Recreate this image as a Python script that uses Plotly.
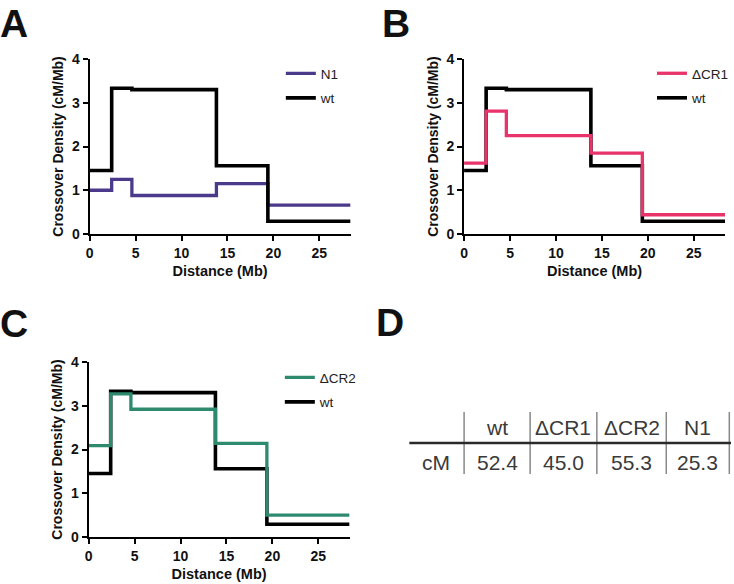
import plotly.graph_objects as go

# ---- data ----
breaks_mb = [0, 2.4, 4.6, 13.8, 19.4, 28.4]
wt = [1.45, 3.33, 3.30, 1.56, 0.29]
n1 = [1.00, 1.25, 0.88, 1.15, 0.66]
dcr1 = [1.62, 2.81, 2.25, 1.85, 0.44]
dcr2 = [2.09, 3.27, 2.92, 2.14, 0.50]

table_cols = ["wt", "ΔCR1", "ΔCR2", "N1"]
table_row_label = "cM"
table_vals = ["52.4", "45.0", "55.3", "25.3"]

# ---- styles ----
C_WT = "#000000"
C_N1 = "#4b3a8c"
C_CR1 = "#e8336b"
C_CR2 = "#2e8a6e"
W, H = 734, 584
BOLD = "Liberation Sans, Arial, sans-serif"


def steps(vals):
    return vals + [vals[-1]]


fig = go.Figure()

panels = [
    ("x", "y", "legend", "N1", n1, C_N1, True),
    ("x2", "y2", "legend2", "ΔCR1", dcr1, C_CR1, False),
    ("x3", "y3", "legend3", "ΔCR2", dcr2, C_CR2, False),
]

for xa, ya, lg, name, vals, col, wt_top in panels:
    tr_other = go.Scatter(x=breaks_mb, y=steps(vals), mode="lines", line=dict(shape="hv", color=col, width=3.3),
                          name=name, xaxis=xa, yaxis=ya, legend=lg, legendgroup=name + lg, legendrank=1)
    tr_wt = go.Scatter(x=breaks_mb, y=steps(wt), mode="lines", line=dict(shape="hv", color=C_WT, width=3.6),
                       name="wt", xaxis=xa, yaxis=ya, legend=lg, legendgroup="wt" + lg, legendrank=2)
    if wt_top:
        fig.add_trace(tr_other)
        fig.add_trace(tr_wt)
    else:
        fig.add_trace(tr_wt)
        fig.add_trace(tr_other)


def px_x(p):
    return p / W


def px_y(p):
    return 1 - p / H


axis_common = dict(showgrid=False, zeroline=False, showline=True, linecolor="black", linewidth=2,
                   ticks="outside", ticklen=5, tickwidth=2, tickcolor="black",
                   tickfont=dict(family=BOLD, size=14, color="#111", weight="bold"), automargin=False)

xdom = {"x": [90, 352], "x2": [466, 728], "x3": [89, 351]}
ydom = {"y": [234, 59], "y2": [234, 59], "y3": [537, 362]}

layout = dict(width=W, height=H, margin=dict(l=0, r=0, t=0, b=0), plot_bgcolor="white", paper_bgcolor="white",
              showlegend=True)

for i, (xa, ya) in enumerate([("x", "y"), ("x2", "y2"), ("x3", "y3")]):
    xk = "xaxis" if i == 0 else f"xaxis{i+1}"
    yk = "yaxis" if i == 0 else f"yaxis{i+1}"
    layout[xk] = dict(axis_common, domain=[px_x(xdom[xa][0]), px_x(xdom[xa][1])], range=[0, 28.4],
                      tickvals=[0, 5, 10, 15, 20, 25], anchor=ya,
                      title=dict(text="Distance (Mb)", font=dict(family=BOLD, size=14.5, color="#111", weight="bold"),
                                 standoff=6))
    layout[yk] = dict(axis_common, domain=[px_y(ydom[ya][0]), px_y(ydom[ya][1])], range=[0, 4],
                      tickvals=[0, 1, 2, 3, 4], anchor=xa,
                      title=dict(text="Crossover Density (cM/Mb)",
                                 font=dict(family=BOLD, size=14, color="#111", weight="bold"), standoff=5))

legend_pos = {"legend": (282, 58), "legend2": (655, 58), "legend3": (281, 362)}
for lg, (lx, ly) in legend_pos.items():
    layout[lg] = dict(x=px_x(lx), y=px_y(ly), xanchor="left", yanchor="top", bgcolor="rgba(0,0,0,0)",
                      font=dict(family="Liberation Sans, Arial, sans-serif", size=13.5, color="#222"),
                      tracegroupgap=4, traceorder="grouped")

fig.update_layout(**layout)

# panel letters
for letter, lx, ly in [("A", -2, 0), ("B", 382, 0), ("C", -2, 300), ("D", 376, 299)]:
    fig.add_annotation(text=f"<b>{letter}</b>", x=px_x(lx), y=px_y(ly), xref="paper", yref="paper",
                       xanchor="left", yanchor="top", showarrow=False,
                       font=dict(family=BOLD, size=39, color="#111"))

# table (panel D)
TFONT = "Liberation Sans Narrow, Arial Narrow, Liberation Sans, Arial, sans-serif"
col_edges = [466, 532.3, 599.3, 669, 732.3]
row_label_x = 438
head_y, body_y = 427, 462
for i, (hdr, val) in enumerate(zip(table_cols, table_vals)):
    cx = (col_edges[i] + col_edges[i + 1]) / 2
    fig.add_annotation(text=hdr, x=px_x(cx), y=px_y(head_y), xref="paper", yref="paper", showarrow=False,
                       xanchor="center", yanchor="middle", font=dict(family=TFONT, size=21, color="#3a3a3a"))
    fig.add_annotation(text=val, x=px_x(cx), y=px_y(body_y), xref="paper", yref="paper", showarrow=False,
                       xanchor="center", yanchor="middle", font=dict(family=TFONT, size=21, color="#3a3a3a"))
fig.add_annotation(text=table_row_label, x=px_x(row_label_x), y=px_y(body_y), xref="paper", yref="paper",
                   showarrow=False, xanchor="center", yanchor="middle",
                   font=dict(family=TFONT, size=21, color="#3a3a3a"))

for xe in col_edges:
    fig.add_shape(type="line", xref="paper", yref="paper", x0=px_x(xe), x1=px_x(xe), y0=px_y(412), y1=px_y(474),
                  line=dict(color="#888888", width=1.5))
fig.add_shape(type="line", xref="paper", yref="paper", x0=px_x(411), x1=px_x(734), y0=px_y(443), y1=px_y(443),
              line=dict(color="#2a2a2a", width=2.5))

fig.write_html("out.html", config={"displayModeBar": False},
               post_script="document.body.style.margin='0';document.body.style.overflow='hidden';")
